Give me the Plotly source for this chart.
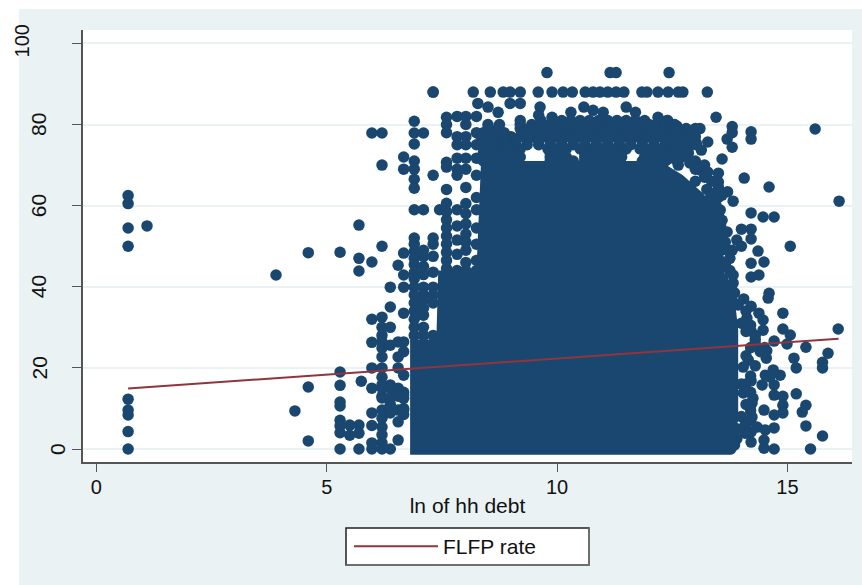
import plotly.graph_objects as go

# ---- values ----
x_tick_vals = [0, 5, 10, 15]
y_tick_vals = [0, 20, 40, 60, 80, 100]
y_tick_text = ["0", "20", "40", "60", "80", "100"]

fit_x = [0.69, 16.11]
fit_y = [14.9, 27.2]

# Far-left and low-debt observations
left_x = [0.69]*9 + [1.1, 3.9, 4.6, 4.6, 4.6, 4.31, 5.29, 5.29, 5.29, 5.29, 5.29, 5.29, 5.29, 5.29, 5.29,
                      5.5, 5.5, 5.7, 5.7, 5.7, 5.7, 5.7, 5.7, 5.75]
left_y = [62.5, 60.5, 54.5, 50, 12.3, 9.6, 8.4, 4.3, 0, 55, 42.9, 48.4, 15.3, 2, 9.4, 48.5, 19, 15.7, 11.6,
          10.6, 7.1, 5.7, 4, 0, 5.9, 3.4, 55.2, 47, 43.9, 5.9, 3.9, 0, 16.7]

# Sparse columns left of the dense cloud
col_598 = [77.9, 46.1, 32, 26.3, 20, 15, 8.9, 5.8, 1.5, 0]
col_62 = [77.9, 70, 50, 32.5, 30, 28, 26.4, 24.9, 22.7, 20, 17.7, 15.8, 15, 13, 12.6, 9.6, 7.6, 5.4, 3.5, 1.5, 0]
col_638 = [39.9, 35, 30, 25.6, 15.8, 15, 12.6, 11, 10.4, 9.6, 8.9, 0]
col_655 = [45.3, 26.4, 22.7, 20, 15, 14.5, 13, 9.6, 6.7, 2.2]
col_667 = [72, 69, 48.3, 42.9, 39.9, 33.5, 26.4, 24, 18.2, 14, 13.3, 12.5, 10, 9.6, 8.5]
col_69 = [80.8, 77.9, 75.2, 71, 69, 66.5, 64.3, 59, 52, 50.5, 48.7, 47, 45.5, 43.5, 42, 39.9, 38, 36, 34, 32, 30, 28]
col_71 = [77.9, 59, 49, 47.4, 45, 43, 39.9, 38, 36.7, 34.7, 33, 30, 28]
col_73 = [88, 67.5, 52, 50.5, 47.5, 43.6, 39.9, 38, 36, 28]
col_76 = [81.8, 80, 78, 70.7, 69.5, 64, 60.6, 58.5, 56.5, 54.5, 52.5, 50.5, 48.5, 46.5, 44.5]
col_745 = [59]
col_783 = [82, 77, 75, 71.7, 69, 67.5, 59, 55, 51.5, 48, 44]
col_80 = [82, 80, 77, 75, 71.7, 69, 64.5, 60.5, 58, 55.5, 53, 51, 49, 46, 44]
col_825 = [82, 78, 75, 71.7, 67.5, 62, 59, 54.5, 50.5, 46.5, 44]

# Top rows and the bumpy upper edge of the cloud
top_88_x = [7.31, 8.18, 8.55, 8.83, 8.98, 9.2, 9.59, 9.89, 10.13, 10.33, 10.61, 10.78, 10.93, 11.1, 11.28,
            11.45, 11.84, 11.95, 12.19, 12.41, 12.63, 12.73, 13.26]
top_93_x = [9.78, 11.15, 11.28, 12.43]
upper_x = [8.28, 8.5, 8.72, 8.98, 9.2, 9.63, 9.6, 9.89, 10.3, 10.58, 10.78, 11.0, 11.5, 11.7, 12.19, 12.39, 12.6]
upper_y = [85.2, 84.3, 83, 85.2, 85.2, 84.3, 82.3, 81.8, 83, 84.3, 83.5, 83, 84.3, 83, 81.8, 81, 79.6]

# Rows that fill the band above the solid part, with gaps where the picture has holes
row_81 = [9.2, 9.65, 9.9, 10.1, 10.3, 10.5, 10.7, 10.9, 11.1, 11.3, 11.5, 11.7, 11.9, 12.2, 12.4]
row_80 = [8.5, 8.75, 9.2, 9.45, 9.7, 9.85, 10.0, 10.2, 10.4, 10.6, 10.8, 11.0, 11.2, 11.4, 11.6, 11.8, 12.0, 12.15, 12.35, 12.55]
row_79 = [8.5, 8.72, 9.2, 9.4, 9.65, 9.9, 10.1, 10.35, 10.6, 10.85, 11.1, 11.35, 11.6, 11.85, 12.1, 12.35, 12.6, 12.8, 13.0]
row_78 = [8.4, 8.6, 8.85, 9.3, 9.55, 9.8, 10.0, 10.25, 10.5, 10.75, 11.0, 11.25, 11.5, 11.75, 12.0, 12.25, 12.5, 12.7]
row_77 = [8.35, 8.5, 8.75, 9.0, 9.2, 9.45, 9.7, 9.95, 10.2, 10.45, 10.7, 10.95, 11.2, 11.45, 11.7, 11.95, 12.2, 12.45, 12.6, 12.85, 13.0]
row_76 = [8.45, 8.65, 8.9, 9.1, 9.35, 9.6, 9.85, 10.1, 10.35, 10.6, 10.85, 11.1, 11.35, 11.6, 11.85, 12.1, 12.35, 12.55, 12.75]
row_75 = [8.35, 8.6, 8.85, 9.1, 9.35, 9.6, 9.85, 10.1, 10.35, 10.6, 10.85, 11.1, 11.35, 11.6, 11.85, 12.1, 12.35, 12.6, 12.9, 13.02]
row_74 = [8.45, 8.75, 9.0, 9.2, 9.8, 10.0, 10.2, 10.5, 10.75, 11.0, 11.25, 11.5, 11.8, 12.05, 12.25, 12.5, 12.75]
row_73 = [8.4, 8.65, 8.9, 9.15, 9.85, 10.1, 10.6, 10.85, 11.1, 11.4, 11.95, 12.3, 12.6, 12.85]
row_72 = [8.5, 8.8, 9.05, 9.2, 9.85, 10.0, 10.2, 10.6, 10.75, 11.0, 11.25, 11.4, 11.9, 12.15, 12.45, 12.7]
row_71 = [8.4, 8.65, 8.9, 9.15, 9.85, 10.1, 10.35, 10.6, 10.85, 11.1, 11.35, 11.85, 12.1, 12.35, 12.6]

# Right-hand edge of the cloud and the stragglers beyond it
right_x = [13.1, 13.45, 13.8, 13.8, 14.21, 14.21, 15.6, 13.27, 13.69, 13.8, 13.13, 13.02, 13.58, 14.06, 14.6,
           16.12, 13.82, 14.21, 14.47, 14.71, 14.0, 14.21, 14.21, 15.06, 14.36, 14.21, 14.49, 14.21, 14.38, 14.6,
           14.58, 13.5, 13.5, 13.5, 13.7, 13.58, 13.54, 13.3, 13.47, 13.58, 13.69, 13.9, 14.0, 13.8, 13.58, 12.88,
           13.27, 13.1, 12.63, 12.41, 13.82, 13.82, 13.54, 14.9, 14.21, 13.82, 13.93, 14.38, 14.47, 14.12, 14.47,
           14.21, 14.9, 15.06, 16.1, 14.71, 14.99, 15.4, 15.88, 15.76, 15.76, 15.14, 15.19, 14.54, 14.15, 14.04,
           14.41, 14.69, 14.84, 14.52, 14.62, 14.45, 14.71, 14.71, 14.21, 14.9, 15.19, 14.9, 14.9, 15.4, 15.32,
           14.71, 14.49, 15.4, 15.76, 14.71, 14.34, 14.52, 14.21, 14.21, 14.49, 14.49, 14.71, 15.5, 13.77, 14.08,
           14.08, 13.82, 14.23, 14.23, 14.04]
right_y = [79, 81.8, 79.5, 78, 78.2, 76.4, 78.9, 75.7, 76.4, 74.4, 73.7, 75.4, 71.5, 66.8, 64.6, 61.1, 61.1, 58.2,
           57.2, 57.2, 54.2, 54.2, 51.8, 50, 48.8, 45.8, 46.1, 42.4, 42.9, 38.4, 37.2, 68, 65.8, 64.6, 63.4, 62.6,
           58.9, 60.1, 57.2, 56.4, 53.5, 51.5, 50, 49, 46.1, 70.5, 68.3, 68.8, 70, 71.5, 42.9, 40.9, 40.4, 33.5,
           35.2, 36.2, 35.5, 33.5, 31.8, 32.3, 29.3, 29.1, 29.6, 28.1, 29.6, 26.6, 25.9, 25.1, 23.6, 21.4, 20, 22.4,
           20, 22.4, 21.9, 20.2, 24, 19.5, 18.2, 18.2, 17.8, 15.8, 15.8, 13.3, 16.8, 13, 13.6, 10.8, 8.9, 10.8, 9.1,
           8.4, 9.6, 5.7, 3.2, 5.2, 5.4, 4.7, 4.2, 1.7, 2.2, 0.2, 0, 0, 0, 5.9, 3.9, 3.5, 11.3, 7.9, 13.8]

# Points that keep the right flank of the cloud dense
flank_x = [13.0, 13.0, 13.2, 13.0, 13.2, 13.35, 13.25, 13.4, 13.5, 13.3, 13.45, 13.35, 13.55, 13.45, 13.6, 13.65,
           13.7, 13.55, 13.75, 13.65, 13.75, 13.6, 13.7, 13.85, 13.7, 14.05, 14.1, 14.0, 14.2, 14.1, 14.3, 14.3,
           14.3, 14.5, 14.55, 14.2, 14.1, 14.3, 14.2, 14.0, 14.1, 14.2, 14.25, 14.1, 14.2, 14.0, 14.2, 13.9, 13.9, 13.85]
flank_y = [71, 69, 70, 66, 67, 66, 64, 63, 62, 61.5, 60, 58.5, 55, 54, 53, 51, 49, 49, 47, 45.5, 44, 42, 40, 38.5,
           37.5, 37, 34, 31, 30.5, 29, 27, 28, 26, 25, 24.2, 25, 23, 20.5, 18, 16, 16, 14, 12.5, 11, 9.5, 8, 7, 5,
           2.5, 1]

# Outline of the part of the cloud where the points merge into one solid mass
solid_x = [6.81, 6.81, 7.38, 7.42, 8.25, 8.35, 12.23, 12.73, 13.17, 13.43, 13.58, 13.65, 13.55, 13.86, 13.93, 13.93, 13.75]
solid_y = [-1.4, 27, 27, 44, 44, 71, 71, 67.5, 63, 59, 51, 44, 40, 36.7, 29.3, 7.1, -1.4]

# ---- combine columns / rows into point series ----
columns = [(5.98, col_598), (6.2, col_62), (6.38, col_638), (6.55, col_655), (6.67, col_667), (6.9, col_69),
           (7.1, col_71), (7.31, col_73), (7.6, col_76), (7.45, col_745), (7.83, col_783), (8.02, col_80),
           (8.25, col_825)]
rows = [(81, row_81), (80, row_80), (79, row_79), (78, row_78), (77, row_77), (76, row_76), (75, row_75),
        (74, row_74), (73, row_73), (72, row_72), (71, row_71), (88, top_88_x), (92.8, top_93_x)]
pts_x = list(left_x) + list(right_x) + list(upper_x) + list(flank_x)
pts_y = list(left_y) + list(right_y) + list(upper_y) + list(flank_y)
for cx, ys in columns:
    pts_x += [cx]*len(ys)
    pts_y += ys
for ry, xs in rows:
    pts_x += xs
    pts_y += [ry]*len(xs)

NAVY = "#1a476f"
MAROON = "#90353b"
BG = "#eaf2f3"
AXIS = "#555555"

fig = go.Figure()
fig.add_trace(go.Scatter(x=solid_x, y=solid_y, mode="lines", fill="toself", fillcolor=NAVY,
                         line=dict(color=NAVY, width=0), showlegend=False, hoverinfo="skip"))
fig.add_trace(go.Scatter(x=pts_x, y=pts_y, mode="markers", showlegend=False,
                         marker=dict(color=NAVY, size=11.5, line=dict(width=0))))
fig.add_trace(go.Scatter(x=fit_x, y=fit_y, mode="lines", name="FLFP rate",
                         line=dict(color=MAROON, width=2)))

W, H, L, R, T, B = 862, 585, 83, 10, 30, 123
pw, ph = W-L-R, H-T-B


def px_x(p):
    return (p-L)/pw


def px_y(p):
    return (H-B-p)/ph


shapes = [
    dict(type="rect", xref="paper", yref="paper", layer="below", line=dict(width=0), fillcolor=BG,
         x0=px_x(19), x1=px_x(W), y0=px_y(H), y1=px_y(9)),
    dict(type="rect", xref="paper", yref="paper", layer="below", line=dict(width=0), fillcolor="white",
         x0=0, x1=1, y0=0, y1=1),
    # legend frame
    dict(type="rect", xref="paper", yref="paper", layer="below", line=dict(width=1.5, color="#222222"),
         fillcolor="white", x0=px_x(346), x1=px_x(589), y0=px_y(565), y1=px_y(528)),
    dict(type="line", xref="paper", yref="paper", layer="below", line=dict(width=1.5, color="#777777"),
         x0=px_x(589), x1=px_x(589), y0=px_y(565), y1=px_y(528)),
    dict(type="line", xref="paper", yref="paper", layer="below", line=dict(width=1.5, color="#777777"),
         x0=px_x(346), x1=px_x(589), y0=px_y(565), y1=px_y(565)),
]
label_px = {"0": 57, "20": 39.5, "40": 38.5, "60": 38.5, "80": 38.5, "100": 22}
label_up = {"100": 2}
annotations = [
    dict(text=t, x=px_x(label_px[t]), xref="paper", y=v, yref="y", xanchor="center", yanchor="middle",
         textangle=-90, showarrow=False, yshift=label_up.get(t, 0),
         font=dict(family="Liberation Sans", size=20 if t == "100" else 21, color="#111111"))
    for v, t in zip(y_tick_vals, y_tick_text)
]
fig.update_layout(
    width=W, height=H, autosize=False,
    margin=dict(l=L, r=R, t=T, b=B),
    paper_bgcolor="white", plot_bgcolor="white",
    font=dict(family="Liberation Sans", size=20, color="#111111"),
    shapes=shapes, annotations=annotations,
    showlegend=True,
    legend=dict(x=px_x(349), xanchor="left", y=px_y(546.5), yanchor="middle",
                bgcolor="rgba(0,0,0,0)", borderwidth=0,
                font=dict(size=21), itemwidth=84, itemclick=False),
    xaxis=dict(range=[-0.289, 16.40], tickvals=x_tick_vals, ticks="outside", ticklen=8, tickwidth=1.2,
               tickcolor=AXIS, showline=True, linecolor=AXIS, linewidth=2, showgrid=False, zeroline=False,
               tickfont=dict(size=20), ticklabelstandoff=-2,
               title=dict(text="ln of hh debt", font=dict(size=21), standoff=1)),
    yaxis=dict(range=[-3.2, 103.3], tickvals=y_tick_vals, ticks="outside", ticklen=9, tickwidth=1.2,
               tickcolor=AXIS, showline=True, linecolor=AXIS, linewidth=2, showgrid=True, gridcolor=BG,
               gridwidth=1.5, zeroline=False, showticklabels=False),
)
fig.write_html("out.html", post_script="document.body.style.margin='0';",
               config=dict(displayModeBar=False))
